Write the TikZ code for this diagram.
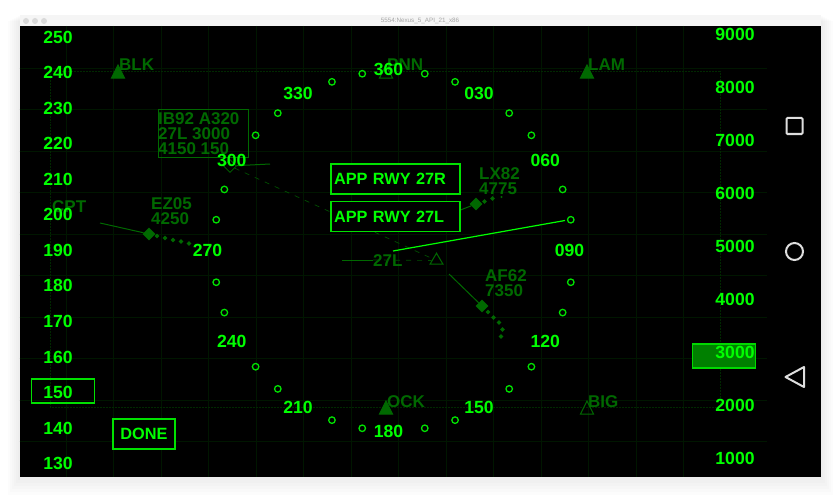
\documentclass[tikz,border=0pt]{standalone}
\usepackage{fontspec}
\setmainfont{Liberation Sans}
\usetikzlibrary{shapes.geometric,positioning,calc}
\definecolor{lime}{RGB}{0,255,0}
\definecolor{ring}{RGB}{0,225,0}
\definecolor{dim}{RGB}{0,105,0}
\definecolor{faint}{RGB}{0,22,0}
\definecolor{frame}{RGB}{0,40,0}
\begin{document}
\begin{tikzpicture}[x=1pt,y=-1pt]
		\tikzstyle{reading}=[text=lime, font=\bfseries\fontsize{17.6}{17}\selectfont, inner sep=0pt]
		\tikzstyle{tag}=[text=dim, font=\bfseries\fontsize{17}{15}\selectfont, inner sep=0pt, anchor=west, align=left]
		\tikzstyle{box}=[rectangle, draw=ring, line width=1.2pt, fill=black, inner sep=0pt, text=lime, font=\bfseries\fontsize{16.3}{17}\selectfont]
		\tikzstyle{tick}=[circle, draw=ring, line width=1.3pt, minimum size=6.5pt, inner sep=0pt]
		\tikzstyle{beacon}=[isosceles triangle, isosceles triangle stretches, shape border rotate=90, draw=dim, line width=1pt, minimum width=13pt, minimum height=13pt, inner sep=0pt]
		\tikzstyle{plane}=[diamond, fill=dim, minimum size=13pt, inner sep=0pt]
		\tikzstyle{trail}=[diamond, fill=dim, minimum size=5pt, inner sep=0pt]
		\tikzstyle{light}=[circle, fill=white!85!black, minimum size=6pt, inner sep=0pt]
		\tikzstyle{connect}=[dim, line width=1pt]
		\tikzstyle{route}=[dim!75!black, dash pattern=on 5pt off 6pt, line width=0.7pt]
		\tikzstyle{button}=[draw=white!87!black, line width=2pt]
		\useasboundingbox (0,0) rectangle (840,500);

		% window
		\fill[white] (0,0) rectangle (840,500);
		\foreach \s in {12,10,...,2}
			\fill[black, opacity=0.012] (19.5-\s,15+\s*0.5) rectangle (820.5+\s,476.5+\s*1.5);
		\fill[white!96!black] (19.5,15) rectangle (820.5,26);
		\fill[black] (19.5,26) rectangle (820.5,476.5);
		\node[light] (lighta) at (26,21) {};
		\node[light] (lightb) at (35,21) {};
		\node[light] (lightc) at (44,21) {};
		\node[text=white!65!black, font=\fontsize{6.3}{7}\selectfont] (title) at (420,20.5) {5554:Nexus\_5\_API\_21\_x86};

		% grid
		\foreach \x in {66,113.5,...,730}
			\draw[faint, line width=0.5pt] (\x,26) -- (\x,476.5);
		\foreach \y in {68,109.5,...,445}
			\draw[faint, line width=0.5pt] (19.5,\y) -- (767,\y);
		\draw[frame, densely dotted, line width=0.5pt] (50,71) rectangle (720,407);

		% beacons
		\node[beacon, fill=dim] (blk) at (118,74) {};
		\node[beacon] (pnn) at (386,74) {};
		\node[beacon, fill=dim] (lam) at (587,74) {};
		\node[beacon, fill=dim] (ock) at (386,410) {};
		\node[beacon] (big) at (587,410) {};
		\node[tag] (blktext) at (119,65) {BLK};
		\node[tag] (pnntext) at (387,65) {PNN};
		\node[tag] (lamtext) at (588,65) {LAM};
		\node[tag] (ocktext) at (387,402) {OCK};
		\node[tag] (bigtext) at (588,402) {BIG};
		\node[tag] (cpttext) at (52,207) {CPT};

		% runway
		\node[beacon, minimum height=11pt] (rwy) at (436.5,260.5) {};
		\node[tag] (rwytext) at (373,261) {27L};
		\coordinate (rwyend) at (342,260);
		\coordinate (rwyleft) at (373,260);
		\coordinate (heada) at (393,251);
		\coordinate (headb) at (565,220.5);

		% aircraft
		\node[diamond, draw=dim, line width=0.8pt, minimum size=13pt, inner sep=0pt] (ib) at (230,166) {};
		\node[plane] (ez) at (149,234) {};
		\node[plane] (lx) at (476,204) {};
		\node[plane] (af) at (482,306) {};
		\coordinate (ibhead) at (270,164);
		\coordinate (ezhead) at (100,223);
		\coordinate (lxhead) at (450,214);
		\coordinate (afhead) at (449,274);
		\node[trail] (eza) at (157,236) {};
		\node[trail] (ezb) at (165,238) {};
		\node[trail] (ezc) at (173,240) {};
		\node[trail] (ezd) at (181,241.5) {};
		\node[trail] (eze) at (189,243.5) {};
		\node[trail] (lxa) at (484.5,201.5) {};
		\node[trail] (lxb) at (492.5,198.5) {};
		\node[trail, minimum size=2.5pt] (lxc) at (501.5,197) {};
		\node[trail] (afa) at (488,312) {};
		\node[trail] (afb) at (493.5,317.5) {};
		\node[trail] (afc) at (499,322.5) {};
		\node[trail] (afd) at (502.5,329.5) {};
		\node[trail] (afe) at (501,336.5) {};
		\node[tag] (eztext) at (151,211.5) {EZ05\\4250};
		\node[tag] (lxtext) at (479,181.5) {LX82\\4775};
		\node[tag] (aftext) at (485,283.5) {AF62\\7350};
		\node[rectangle, draw=dim, line width=1pt, minimum width=90.5pt, minimum height=48pt, anchor=north west, inner sep=0pt] (ibbox) at (157.5,109) {};
		\node[tag] (ibtext) at (158,133.5) {IB92 A320\\27L 3000\\4150 150};

		\path
		(ib) edge [connect] (ibhead)
		(ib) edge [route] (rwy)
		(rwyleft) edge [route] (rwy)
		(rwyend) edge [connect] (rwyleft)
		(ez) edge [connect] (ezhead)
		(lx) edge [connect] (lxhead)
		(af) edge [connect] (afhead)
		(heada) edge [draw=lime, line width=1.2pt] (headb)
		;

		% compass
		\foreach \a in {10,20,40,50,70,80,100,110,130,140,160,170,190,200,220,230,250,260,280,290,310,320,340,350}
			\node[tick] (ring\a) at ($(393.5,251)+(\a-90:180)$) {};
		\foreach \a/\t in {0/360,30/030,60/060,90/090,120/120,150/150,180/180,210/210,240/240,270/270,300/300,330/330}
			\node[reading] (head\t) at ($(388.5,250.5)+(\a-90:181)$) {\t};

		% scales
		\foreach \v [count=\i from 0] in {250,240,...,130}
			\node[reading] (speed\v) at (58,37+35.55*\i) {\v};
		\node[box, fill=none, minimum width=63pt, minimum height=24pt] (speedbox) at (63,391) {};
		\node[rectangle, draw=lime!85!black, line width=1.2pt, fill=green!50!black, minimum width=63pt, minimum height=24pt] (altbox) at (724,356) {};
		\foreach \v [count=\i from 0] in {9000,8000,...,1000}
			\node[reading] (alt\v) at (735,34+53.1*\i) {\v};

		% buttons
		\node[box, minimum width=129pt, minimum height=30pt, text width=123pt] (appr) at (395.5,179) {APP RWY 27R};
		\node[box, minimum width=129pt, minimum height=30pt, text width=123pt] (appl) at (395.5,216.5) {APP RWY 27L};
		\node[box, minimum width=62pt, minimum height=30pt, align=center] (done) at (144,434) {DONE};

		% navigation
		\node[rectangle, button, rounded corners=1pt, minimum size=16pt, inner sep=0pt] (back) at (794.5,126) {};
		\node[circle, button, minimum size=17pt, inner sep=0pt] (home) at (794.5,251.5) {};
		\draw[button, line join=round] (804,367) -- (785.5,377) -- (804,387) -- cycle;
\end{tikzpicture}
\end{document}
